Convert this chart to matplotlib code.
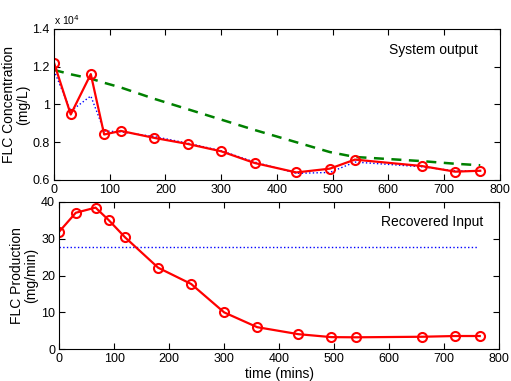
import matplotlib
matplotlib.use("Agg")
import matplotlib.pyplot as plt
from matplotlib.ticker import FuncFormatter

plt.rcParams['font.family'] = ['Liberation Sans', 'DejaVu Sans']

# temps de mesure (mins)
temps = [0, 30, 66, 90, 120, 180, 240, 300, 360, 435, 495, 540, 660, 720, 765]

# concentration FLC (x 10^4 mg/L)
mesure = [1.221, 0.947, 1.161, 0.841, 0.86, 0.823, 0.791, 0.752, 0.69,
          0.64, 0.66, 0.708, 0.674, 0.644, 0.649]
modele = [1.18, 0.965, 1.045, 0.86, 0.855, 0.83, 0.795, 0.755, 0.695,
          0.635, 0.64, 0.695, 0.67, 0.648, 0.648]
decroissance = [1.183, 1.16, 1.137, 1.115, 1.09, 1.03, 0.975, 0.92, 0.865,
                0.80, 0.748, 0.722, 0.70, 0.686, 0.678]

# production FLC recuperee (mg/min)
production = [31.9, 37.0, 38.4, 35.0, 30.3, 22.1, 17.7, 10.0, 6.0,
              4.1, 3.3, 3.25, 3.4, 3.6, 3.6]
production_cste = [27.8, 27.8]
temps_cste = [0, 760]

fig = plt.figure(figsize=(5.11, 3.81), dpi=100)
ax1 = fig.add_axes([0.1057, 0.5276, 0.8723, 0.3963])
ax2 = fig.add_axes([0.116, 0.0832, 0.8605, 0.3874])

rouge = dict(color='red', lw=1.6, marker='o', ms=6.5, mfc='none', mew=1.5)

ax1.plot(temps, decroissance, color='green', ls='--', lw=1.8, dashes=(4, 3))
ax1.plot(temps, modele, color='blue', ls=':', lw=1.0)
ax1.plot(temps, mesure, **rouge)
ax1.set_xlim(0, 800)
ax1.set_ylim(0.6, 1.4)
ax1.set_yticks([0.6, 0.8, 1.0, 1.2, 1.4])
ax1.yaxis.set_major_formatter(FuncFormatter(lambda v, p: '%g' % v))
ax1.set_ylabel('FLC Concentration\n(mg/L)', fontsize=10, linespacing=1.0,
               labelpad=2)
ax1.text(0, 1.015, r'x 10$^4$', transform=ax1.transAxes, fontsize=7.5,
         ha='left', va='bottom')
ax1.text(0.951, 0.861, 'System output', transform=ax1.transAxes,
         fontsize=10, ha='right', va='center')

ax2.plot(temps_cste, production_cste, color='blue', ls=':', lw=1.0)
ax2.plot(temps, production, **rouge)
ax2.set_xlim(0, 800)
ax2.set_ylim(0, 40)
ax2.set_yticks([0, 10, 20, 30, 40])
ax2.set_ylabel('FLC Production\n(mg/min)', fontsize=10, linespacing=1.0,
               labelpad=2)
ax2.set_xlabel('time (mins)', fontsize=10, labelpad=1)
ax2.text(0.964, 0.864, 'Recovered Input', transform=ax2.transAxes,
         fontsize=10, ha='right', va='center')

for ax in (ax1, ax2):
    ax.set_xticks(range(0, 801, 100))
    ax.tick_params(direction='in', top=True, right=True, labelsize=9,
                   length=4, width=0.8, pad=3)
    for s in ax.spines.values():
        s.set_linewidth(0.8)

fig.savefig('out.png', dpi=100)
